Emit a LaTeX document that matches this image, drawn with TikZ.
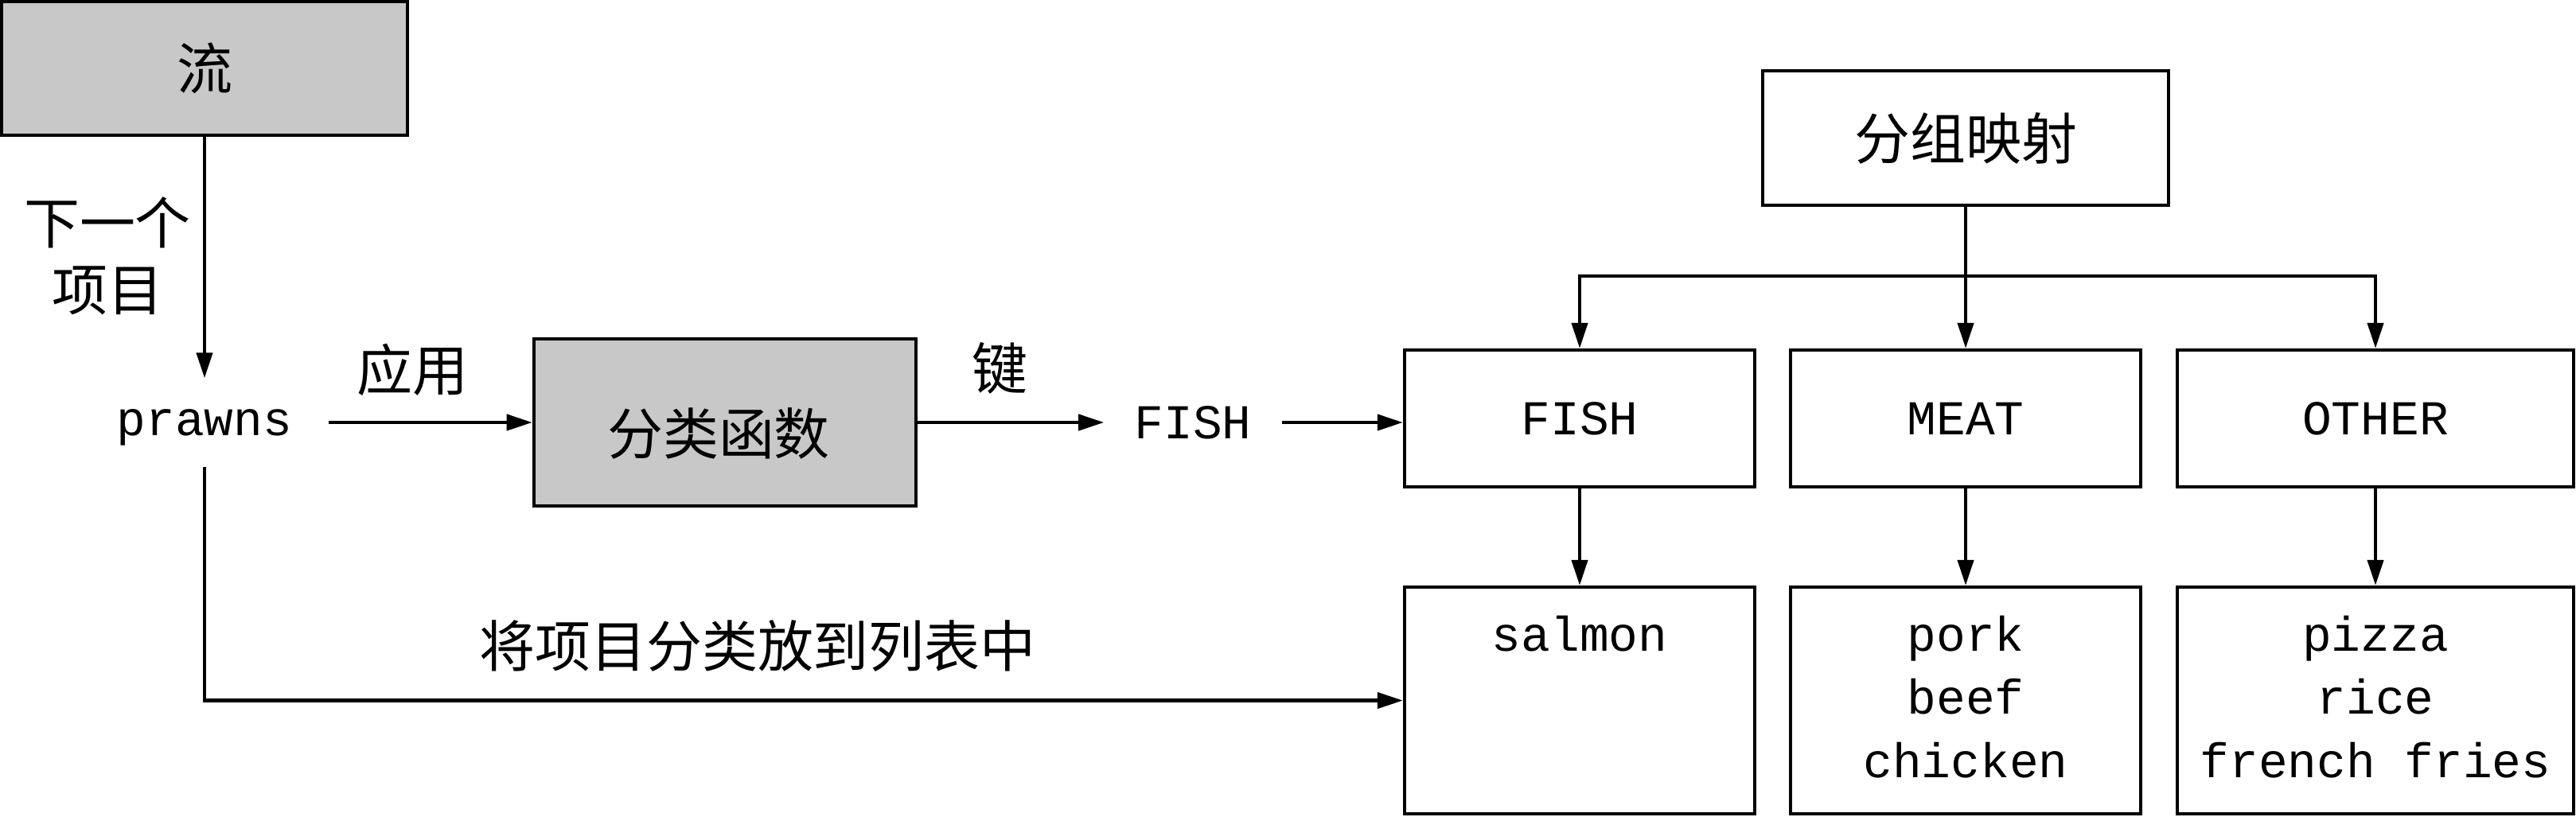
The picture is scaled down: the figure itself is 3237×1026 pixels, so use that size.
\documentclass[tikz,border=0pt]{standalone}
\usepackage{fontspec}
\setmonofont{Liberation Mono}
\newfontfamily\cjk{Noto Sans CJK SC}
\usetikzlibrary{arrows.meta}
\definecolor{boxgray}{RGB}{200,200,200}
\begin{document}
\begin{tikzpicture}[x=0.01cm,y=-0.01cm,
  box/.style={draw, line width=1.2pt, inner sep=0pt},
  graybox/.style={box, fill=boxgray},
  cjktext/.style={font=\cjk\fontsize{19.9pt}{23.9pt}\selectfont, inner sep=0pt},
  monotext/.style={font=\ttfamily\fontsize{17.4pt}{22.5pt}\selectfont, inner sep=0pt},
  arr/.style={line width=1.2pt, -{Triangle[length=0.32cm,width=0.2cm]}},
  ln/.style={line width=1.2pt}]
\useasboundingbox (0,0) rectangle (3237,1026);

% left part
\node[graybox, cjktext, minimum width=5.10cm, minimum height=1.68cm] (stream) at (257,86) {流};
\node[cjktext, align=center] (nextlbl) at (135,322) {下一个\\项目};
\node[monotext, minimum width=3.10cm, minimum height=1.10cm, text height=0.32cm, text depth=0cm] (prawns) at (257,531) {prawns};
\draw[arr] (stream) -- (prawns);

\node[graybox, minimum width=4.80cm, minimum height=2.10cm] (classify) at (911,531) {};
\node[cjktext] (classifytext) at (903,545) {分类函数};
\node[cjktext] (applylbl) at (518,465) {应用};
\draw[arr] (prawns.east) -- (classify.west);

\node[cjktext] (keylbl) at (1256,463) {键};
\node[monotext, minimum width=2.22cm, minimum height=0.5cm] (fishkey) at (1499,531) {FISH};
\draw[arr] (classify.east) -- (fishkey.west);

% grouping map
\node[box, cjktext, minimum width=5.10cm, minimum height=1.69cm] (group) at (2470,173.5) {分组映射};
\node[box, monotext, minimum width=4.40cm, minimum height=1.72cm] (fishb) at (1985,526) {FISH};
\node[box, monotext, minimum width=4.40cm, minimum height=1.72cm] (meatb) at (2470,526) {MEAT};
\node[box, monotext, minimum width=4.98cm, minimum height=1.72cm] (otherb) at (2985,526) {OTHER};
\draw[arr] (fishkey.east) -- (fishkey.east -| fishb.west);

\coordinate (bus) at (2470,347);
\draw[ln] (group.south) -- (bus);
\draw[arr] (bus) -| (fishb.north);
\draw[arr] (bus) -| (otherb.north);
\draw[arr] (bus) -- (meatb.north);

\node[box, minimum width=4.40cm, minimum height=2.85cm] (fishl) at (1985,880.5) {};
\node[box, minimum width=4.40cm, minimum height=2.85cm] (meatl) at (2470,880.5) {};
\node[box, minimum width=4.98cm, minimum height=2.85cm] (otherl) at (2985,880.5) {};
\draw[arr] (fishb) -- (fishl);
\draw[arr] (meatb) -- (meatl);
\draw[arr] (otherb) -- (otherl);

\node[monotext, anchor=base] (salmon) at (1985,818) {salmon};
\node[monotext, anchor=base] (pork) at (2470,818) {pork};
\node[monotext, anchor=base] (beef) at (2470,897) {beef};
\node[monotext, anchor=base] (chicken) at (2470,977) {chicken};
\node[monotext, anchor=base] (pizza) at (2985,818) {pizza};
\node[monotext, anchor=base] (rice) at (2985,897) {rice};
\node[monotext, anchor=base] (fries) at (2985,977) {french fries};

\node[cjktext] (sortlbl) at (952,812) {将项目分类放到列表中};
\draw[arr] (prawns.south) |- (fishl.west);
\end{tikzpicture}
\end{document}
